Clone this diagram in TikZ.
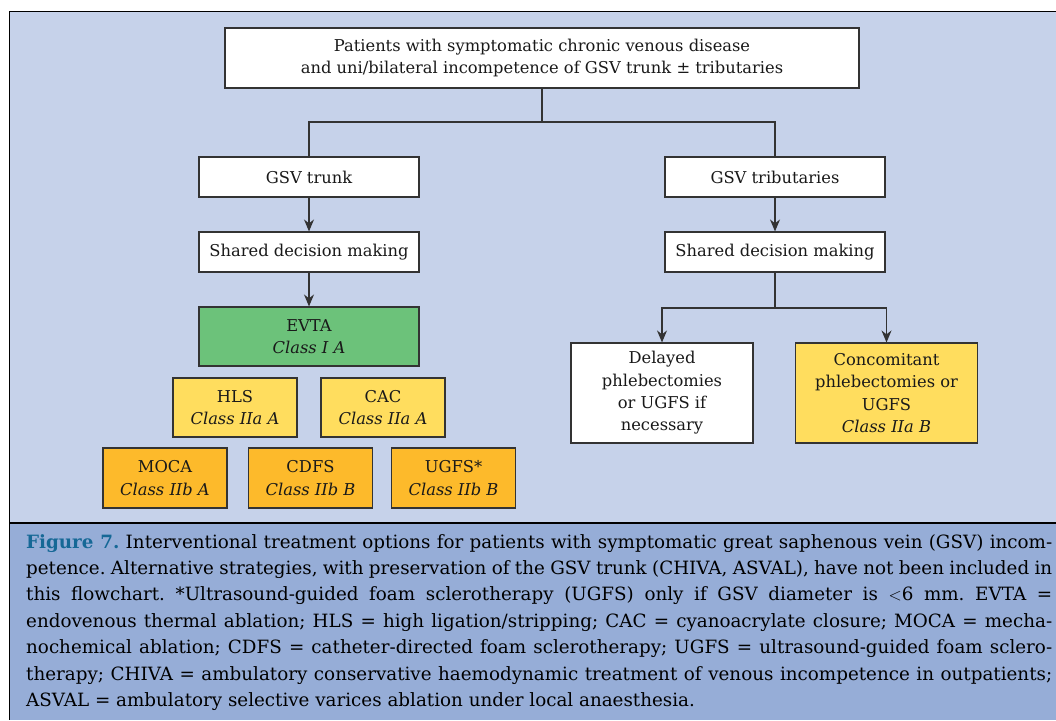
\documentclass[tikz,border=0pt]{standalone}
\usepackage{fontspec}
\setmainfont{DejaVu Serif}
\usepackage{xcolor}
\usetikzlibrary{arrows.meta}
\tikzset{>={Stealth[length=12pt,width=10pt]}}
\definecolor{bgblue}{RGB}{198,210,234}
\definecolor{capblue}{RGB}{150,173,215}
\definecolor{classone}{RGB}{108,194,122}
\definecolor{classtwoa}{RGB}{255,221,94}
\definecolor{classtwob}{RGB}{253,186,43}
\definecolor{figlabel}{RGB}{22,104,150}
\definecolor{boxline}{RGB}{51,51,51}
\newcommand{\boxfont}{\fontsize{16.3}{22.4}\selectfont}
\newcommand{\capline}[1]{\makebox[1026pt][s]{#1}}
\tikzset{flowbox/.style = {draw=boxline,line width=1.1pt,fill=white,align=center,inner sep=0pt,font=\boxfont,text=black!90}}
\tikzset{widebox/.style = {flowbox,minimum width=220pt,minimum height=40pt}}
\tikzset{classbox/.style = {flowbox,minimum width=124pt,minimum height=59pt}}
\tikzset{tallbox/.style = {flowbox,minimum width=182pt,minimum height=100pt}}
\tikzset{link/.style = {draw=boxline,line width=1.2pt}}

\begin{document}
\frenchspacing
\begin{tikzpicture}[x=1pt,y=-1pt]
                    \useasboundingbox (0,0) rectangle (1056,720);
                    % panel and caption band
                    \fill[bgblue] (9,11) rectangle (1056,523);
                    \fill[capblue] (9,523) rectangle (1056,720);
                    \draw[line width=1pt] (1056,11) -- (9,11) -- (9,720);
                    \draw[line width=2.6pt] (9,523) -- (1056,523);

                    \node[flowbox,minimum width=634pt,minimum height=60pt] (top) at (542,58)
                        {Patients with symptomatic chronic venous disease\\and uni/bilateral incompetence of GSV trunk ± tributaries};

                    % trunk side
                    \node[widebox] (trunk) at (309,177) {GSV trunk};
                    \node[widebox] (sdmL) at (309,252) {Shared decision making};
                    \node[flowbox,fill=classone,minimum width=220pt,minimum height=59pt] (evta) at (309,336.5) {EVTA\\\textit{Class I A}};
                    \node[classbox,fill=classtwoa] (hls) at (235,407.5) {HLS\\\textit{Class IIa A}};
                    \node[classbox,fill=classtwoa] (cac) at (383,407.5) {CAC\\\textit{Class IIa A}};
                    \node[classbox,fill=classtwob,minimum height=60pt] (moca) at (165,478) {MOCA\\\textit{Class IIb A}};
                    \node[classbox,fill=classtwob,minimum height=60pt] (cdfs) at (310.5,478) {CDFS\\\textit{Class IIb B}};
                    \node[classbox,fill=classtwob,minimum height=60pt] (ugfs) at (453.5,478) {UGFS*\\\textit{Class IIb B}};

                    % tributaries side
                    \node[widebox] (trib) at (775,177) {GSV tributaries};
                    \node[widebox] (sdmR) at (775,252) {Shared decision making};
                    \node[tallbox] (delayed) at (662,393) {Delayed\\phlebectomies\\or UGFS if\\necessary};
                    \node[tallbox,fill=classtwoa] (concom) at (886.5,393) {Concomitant\\phlebectomies or\\UGFS\\\textit{Class IIa B}};

                    \coordinate (splitT) at (542,122);
                    \coordinate (splitR) at (775,308);

                    \draw[link] (top) -- (splitT);
                    \draw[link] (splitT) -| (trunk);
                    \draw[link] (splitT) -| (trib);
                    \draw[link,->] (trunk) -- (sdmL);
                    \draw[link,->] (sdmL) -- (evta);
                    \draw[link,->] (trib) -- (sdmR);
                    \draw[link] (sdmR) -- (splitR);
                    \draw[link,->] (splitR) -| (delayed);
                    \draw[link,->] (splitR) -| (concom);

                    \node[anchor=north west,inner sep=0pt,align=left,font=\fontsize{18.3}{26.4}\selectfont] (cap) at (26,534)
                        {\capline{\textcolor{figlabel}{\textbf{Figure 7.}} Interventional treatment options for patients with symptomatic great saphenous vein (GSV) incom-}\\
                         \capline{petence. Alternative strategies, with preservation of the GSV trunk (CHIVA, ASVAL), have not been included in}\\
                         \capline{this flowchart. *Ultrasound-guided foam sclerotherapy (UGFS) only if GSV diameter is $<$6 mm. EVTA =}\\
                         \capline{endovenous thermal ablation; HLS = high ligation/stripping; CAC = cyanoacrylate closure; MOCA = mecha-}\\
                         \capline{nochemical ablation; CDFS = catheter-directed foam sclerotherapy; UGFS = ultrasound-guided foam sclero-}\\
                         \capline{therapy; CHIVA = ambulatory conservative haemodynamic treatment of venous incompetence in outpatients;}\\
                         ASVAL = ambulatory selective varices ablation under local anaesthesia.};
                \end{tikzpicture}
\end{document}
